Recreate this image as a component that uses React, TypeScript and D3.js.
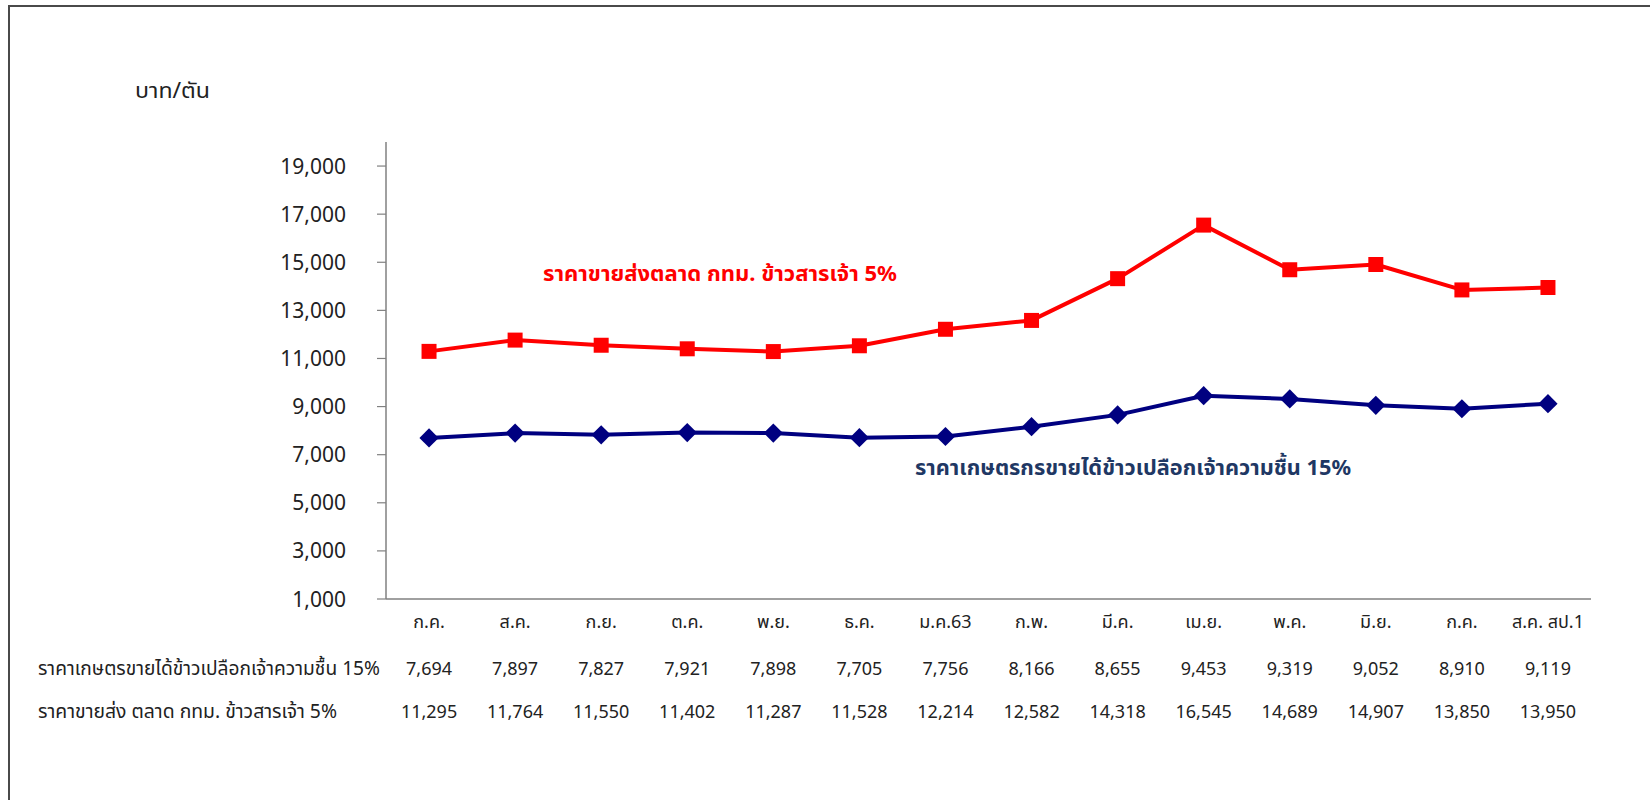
import React, { useEffect } from "react";
import * as d3 from "d3";

const categories = ["ก.ค.", "ส.ค.", "ก.ย.", "ต.ค.", "พ.ย.", "ธ.ค.", "ม.ค.63", "ก.พ.", "มี.ค.", "เม.ย.", "พ.ค.", "มิ.ย.", "ก.ค.", "ส.ค. สป.1"];
const farmPrice = [7694, 7897, 7827, 7921, 7898, 7705, 7756, 8166, 8655, 9453, 9319, 9052, 8910, 9119];
const wholesalePrice = [11295, 11764, 11550, 11402, 11287, 11528, 12214, 12582, 14318, 16545, 14689, 14907, 13850, 13950];
const yTicks = [1000, 3000, 5000, 7000, 9000, 11000, 13000, 15000, 17000, 19000];
const farmLabel = "ราคาเกษตรกรขายได้ข้าวเปลือกเจ้าความชื้น 15%";
const farmRowLabel = "ราคาเกษตรขายได้ข้าวเปลือกเจ้าความชื้น 15%";
const wholesaleLabel = "ราคาขายส่งตลาด กทม. ข้าวสารเจ้า 5%";
const wholesaleRowLabel = "ราคาขายส่ง ตลาด กทม. ข้าวสารเจ้า 5%";
const unitLabel = "บาท/ตัน";

const FONT = "Tahoma, 'Noto Sans', 'Noto Sans Thai', sans-serif";

export default function App() {
  useEffect(() => {
    document.body.style.margin = "0";
  }, []);

  const x = d3.scaleBand<number>().domain(d3.range(categories.length)).range([386, 1591]).padding(0);
  const cx = (i: number) => (x(i) as number) + x.bandwidth() / 2;
  const y = d3.scaleLinear().domain([1000, 20000]).range([599, 142]);
  const fmt = d3.format(",");

  const line = d3.line<number>().x((_, i) => cx(i)).y((d) => y(d));
  const square = d3.symbol().type(d3.symbolSquare).size(225)() as string;
  const diamond = d3.symbol().type(d3.symbolSquare).size(185)() as string;

  return (
    <svg width={1650} height={800} style={{ display: "block", fontFamily: FONT }}>
      <rect x={0} y={0} width={1650} height={800} fill="#fff" />
      <path d="M9,820 V6 H1660" fill="none" stroke="#4a4a4a" strokeWidth={2} />
      <text x={135} y={98} fontSize={21} fill="#222" textLength={75} lengthAdjust="spacingAndGlyphs">{unitLabel}</text>

      {/* y axis */}
      <line x1={386} x2={386} y1={142} y2={599} stroke="#808080" strokeWidth={1.5} />
      {yTicks.map((t) => (
        <g key={t}>
          <line x1={377} x2={386} y1={y(t)} y2={y(t)} stroke="#808080" strokeWidth={1.2} />
          <text x={346} y={y(t)} dy="0.36em" textAnchor="end" fontSize={21} fill="#222">{fmt(t)}</text>
        </g>
      ))}
      {/* x axis */}
      <line x1={386} x2={1591} y1={599} y2={599} stroke="#808080" strokeWidth={1.5} />

      {/* lines */}
      <path d={line(wholesalePrice) as string} fill="none" stroke="#ff0000" strokeWidth={4} strokeLinejoin="round" />
      {wholesalePrice.map((v, i) => (
        <path key={i} d={square} transform={`translate(${cx(i)},${y(v)})`} fill="#ff0000" />
      ))}
      <path d={line(farmPrice) as string} fill="none" stroke="#000080" strokeWidth={4} strokeLinejoin="round" />
      {farmPrice.map((v, i) => (
        <path key={i} d={diamond} transform={`translate(${cx(i)},${y(v)}) rotate(45)`} fill="#000080" />
      ))}

      {/* series labels */}
      <text x={543} y={281} fontSize={21.5} fontWeight="bold" fill="#ff0000" textLength={354} lengthAdjust="spacingAndGlyphs">{wholesaleLabel}</text>
      <text x={915} y={475} fontSize={21.5} fontWeight="bold" fill="#1f3864" textLength={436} lengthAdjust="spacingAndGlyphs">{farmLabel}</text>

      {/* category labels */}
      {categories.map((c, i) => (
        <text key={i} x={cx(i)} y={628} textAnchor="middle" fontSize={18} fill="#222">{c}</text>
      ))}

      {/* table rows */}
      <text x={38} y={675} fontSize={19} fill="#222" textLength={342} lengthAdjust="spacingAndGlyphs">{farmRowLabel}</text>
      {farmPrice.map((v, i) => (
        <text key={i} x={cx(i)} y={675} textAnchor="middle" fontSize={18} fill="#222">{fmt(v)}</text>
      ))}
      <text x={38} y={718} fontSize={19} fill="#222" textLength={299} lengthAdjust="spacingAndGlyphs">{wholesaleRowLabel}</text>
      {wholesalePrice.map((v, i) => (
        <text key={i} x={cx(i)} y={718} textAnchor="middle" fontSize={18} fill="#222">{fmt(v)}</text>
      ))}
    </svg>
  );
}
